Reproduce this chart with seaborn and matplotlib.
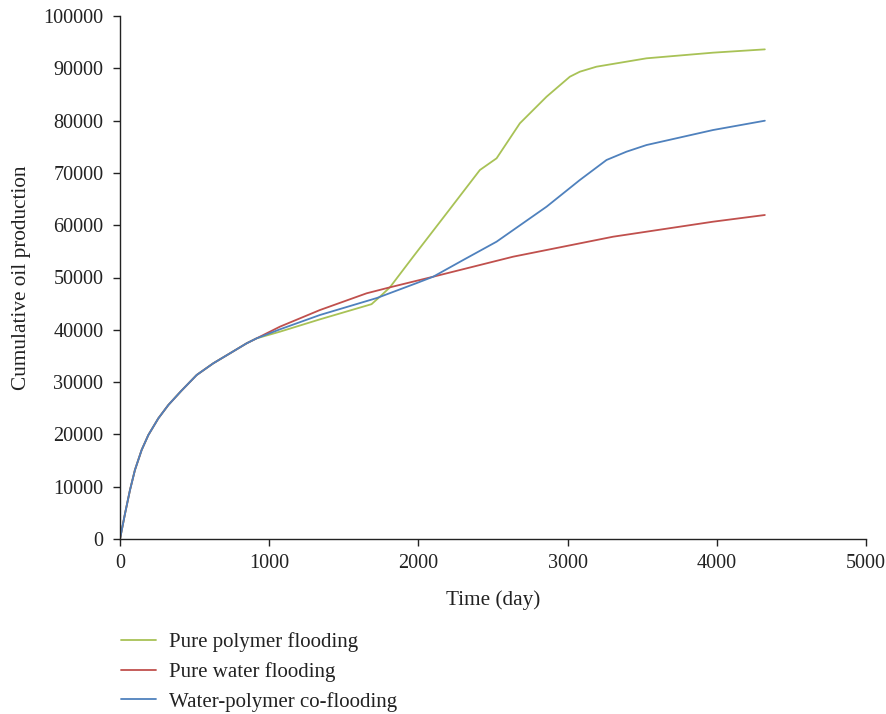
import matplotlib
matplotlib.use("Agg")
import matplotlib.pyplot as plt
from matplotlib.lines import Line2D
import seaborn as sns
import pandas as pd

series_names = ["Pure polymer flooding", "Pure water flooding", "Water-polymer co-flooding"]
series_colors = ["#A8C256", "#C0504D", "#4F81BD"]

polymer_days = [0, 34, 67, 100, 145, 190, 257, 324, 410, 514, 625, 737, 849, 916, 1072, 1340,
                1686, 1742, 1809, 1965, 2189, 2412, 2524, 2680, 2859, 3015, 3082, 3194, 3529,
                3975, 4322]
polymer_oil = [0, 4900, 9370, 13190, 17020, 19880, 23070, 25620, 28300, 31360, 33590, 35500, 37420,
               38370, 39640, 42000, 44900, 46330, 48120, 53980, 62270, 70550, 72790, 79480, 84570,
               88390, 89350, 90310, 91910, 92990, 93620]

water_days = [0, 34, 67, 100, 145, 190, 257, 324, 410, 514, 625, 737, 849, 916, 1072, 1340, 1653,
              1809, 2099, 2635, 3305, 3975, 4322]
water_oil = [0, 4900, 9370, 13190, 17020, 19880, 23070, 25620, 28300, 31360, 33590, 35500, 37420,
             38370, 40600, 43780, 46980, 48120, 50150, 53980, 57800, 60670, 61950]

coflood_days = [0, 34, 67, 100, 145, 190, 257, 324, 410, 514, 625, 737, 849, 916, 1072, 1340,
                1722, 1990, 2099, 2300, 2524, 2859, 3082, 3261, 3395, 3529, 3975, 4322]
coflood_oil = [0, 4900, 9370, 13190, 17020, 19880, 23070, 25620, 28300, 31360, 33590, 35500, 37420,
               38370, 40090, 42830, 46080, 48950, 50150, 53340, 56850, 63540, 68640, 72470, 74060,
               75330, 78200, 79980]

x_ticks = [0, 1000, 2000, 3000, 4000, 5000]
y_ticks = [0, 10000, 20000, 30000, 40000, 50000, 60000, 70000, 80000, 90000, 100000]

frames = []
for name, xs, ys in [(series_names[0], polymer_days, polymer_oil),
                     (series_names[1], water_days, water_oil),
                     (series_names[2], coflood_days, coflood_oil)]:
    frames.append(pd.DataFrame({"Time (day)": xs, "Cumulative oil production": ys, "Series": name}))
df = pd.concat(frames, ignore_index=True)

sns.set_theme(style="ticks")
plt.rcParams["font.family"] = ["Liberation Serif", "DejaVu Serif"]

ink = "#222222"
fig = plt.figure(figsize=(8.87, 7.14), dpi=100)
ax = fig.add_axes([120 / 887, 1 - 539 / 714, (866 - 120) / 887, (539 - 16) / 714])

sns.lineplot(data=df, x="Time (day)", y="Cumulative oil production", hue="Series",
             hue_order=series_names, palette=series_colors, linewidth=1.3,
             estimator=None, sort=False, ax=ax, legend=False)

ax.set_xlim(0, 5000)
ax.set_ylim(0, 100000)
ax.set_xticks(x_ticks)
ax.set_yticks(y_ticks)
ax.set_xticklabels([str(v) for v in x_ticks])
ax.set_yticklabels([str(v) for v in y_ticks])
ax.tick_params(axis="both", direction="out", length=5, width=1.0, labelsize=14.5,
               colors=ink, labelcolor=ink)
ax.tick_params(axis="x", pad=6)
ax.tick_params(axis="y", pad=7)
for s in ["top", "right"]:
    ax.spines[s].set_visible(False)
for s in ["left", "bottom"]:
    ax.spines[s].set_linewidth(1.0)
    ax.spines[s].set_color(ink)
ax.set_xlabel("Time (day)", fontsize=15.3, color=ink, labelpad=12)
ax.set_ylabel("Cumulative oil production", fontsize=15.3, color=ink, labelpad=8.5)

handles = [Line2D([0], [0], color=c, linewidth=1.3) for c in series_colors]
fig.legend(handles, series_names, loc="upper left", bbox_to_anchor=(121 / 887, 1 - 632 / 714),
           frameon=False, fontsize=15, handlelength=1.68, handletextpad=0.62,
           labelspacing=0.48, borderaxespad=0, borderpad=0, labelcolor=ink)

fig.savefig("out.png", dpi=100, facecolor="white")
